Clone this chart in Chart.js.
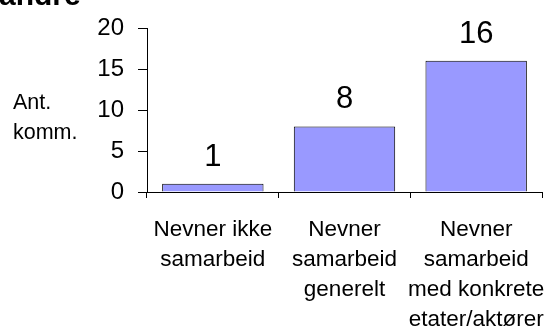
<!DOCTYPE html>
<html>
<head>
<meta charset="utf-8">
<script src="https://cdn.jsdelivr.net/npm/chart.js@4/dist/chart.umd.min.js"></script>
<style>
  html, body { margin: 0; padding: 0; background: #fff; }
  #wrap { width: 549px; height: 327px; position: relative; }
</style>
</head>
<body>
<div id="wrap"><canvas id="c" width="549" height="327"></canvas></div>
<script>
// Number of comments per category
const categories = [
  ["Nevner ikke", "samarbeid"],
  ["Nevner", "samarbeid", "generelt"],
  ["Nevner", "samarbeid", "med konkrete", "etater/aktører"]
];
const counts = [1, 8, 16];
const yTicks = [0, 5, 10, 15, 20];
const chartTitle = "andre";
const axisTitle = ["Ant.", "komm."];

const FONT = "'Liberation Sans', Arial, sans-serif";

// Headline, axis caption and value labels drawn on the canvas
const textPlugin = {
  id: 'texts',
  afterDatasetsDraw(chart) {
    const ctx = chart.ctx;
    ctx.save();
    ctx.fillStyle = '#000';
    ctx.textAlign = 'center';
    ctx.textBaseline = 'alphabetic';
    ctx.font = '31px ' + FONT;
    const meta = chart.getDatasetMeta(0);
    meta.data.forEach((bar, i) => {
      ctx.fillText(String(counts[i]), bar.x, bar.y - 18);
    });
    ctx.restore();
  },
  afterDraw(chart) {
    const ctx = chart.ctx;
    ctx.save();
    ctx.fillStyle = '#000';
    ctx.textAlign = 'left';
    ctx.textBaseline = 'alphabetic';
    ctx.font = 'bold 30px ' + FONT;
    ctx.fillText(chartTitle, -1, 5);
    ctx.font = '21.5px ' + FONT;
    ctx.textBaseline = 'middle';
    ctx.fillText(axisTitle[0], 13, 103);
    ctx.fillText(axisTitle[1], 13, 133);
    ctx.restore();
  }
};

new Chart(document.getElementById('c'), {
  type: 'bar',
  data: {
    labels: categories,
    datasets: [{
      data: counts,
      backgroundColor: '#9999FF',
      borderColor: '#000',
      borderWidth: 1,
      categoryPercentage: 1.0,
      barPercentage: 0.77
    }]
  },
  options: {
    responsive: false,
    animation: false,
    devicePixelRatio: 1,
    layout: { padding: { left: 0, right: 7, top: 28, bottom: 0 } },
    plugins: {
      legend: { display: false },
      tooltip: { enabled: false },
      title: { display: false }
    },
    scales: {
      x: {
        offset: true,
        grid: {
          display: true,
          offset: true,
          drawOnChartArea: false,
          drawTicks: true,
          tickLength: 6,
          color: '#000',
          tickColor: '#000'
        },
        border: { display: true, color: '#000', width: 1 },
        ticks: {
          color: '#000',
          font: { family: FONT, size: 22.5, lineHeight: 1.33 },
          padding: 17,
          maxRotation: 0,
          autoSkip: false
        },
        afterFit(scale) {
          scale.height = 135;
          scale.paddingLeft = 0;
          scale.paddingRight = 0;
        }
      },
      y: {
        min: 0,
        max: 20,
        afterBuildTicks(scale) { scale.ticks = yTicks.map(v => ({ value: v })); },
        grid: {
          display: true,
          drawOnChartArea: false,
          drawTicks: true,
          tickLength: 9,
          color: '#000',
          tickColor: '#000'
        },
        border: { display: true, color: '#000', width: 1 },
        ticks: {
          color: '#000',
          font: { family: FONT, size: 24 },
          padding: 14
        },
        afterFit(scale) {
          scale.width = 147;
          scale.paddingTop = 0;
          scale.paddingBottom = 0;
        }
      }
    }
  },
  plugins: [textPlugin]
});
</script>
</body>
</html>
